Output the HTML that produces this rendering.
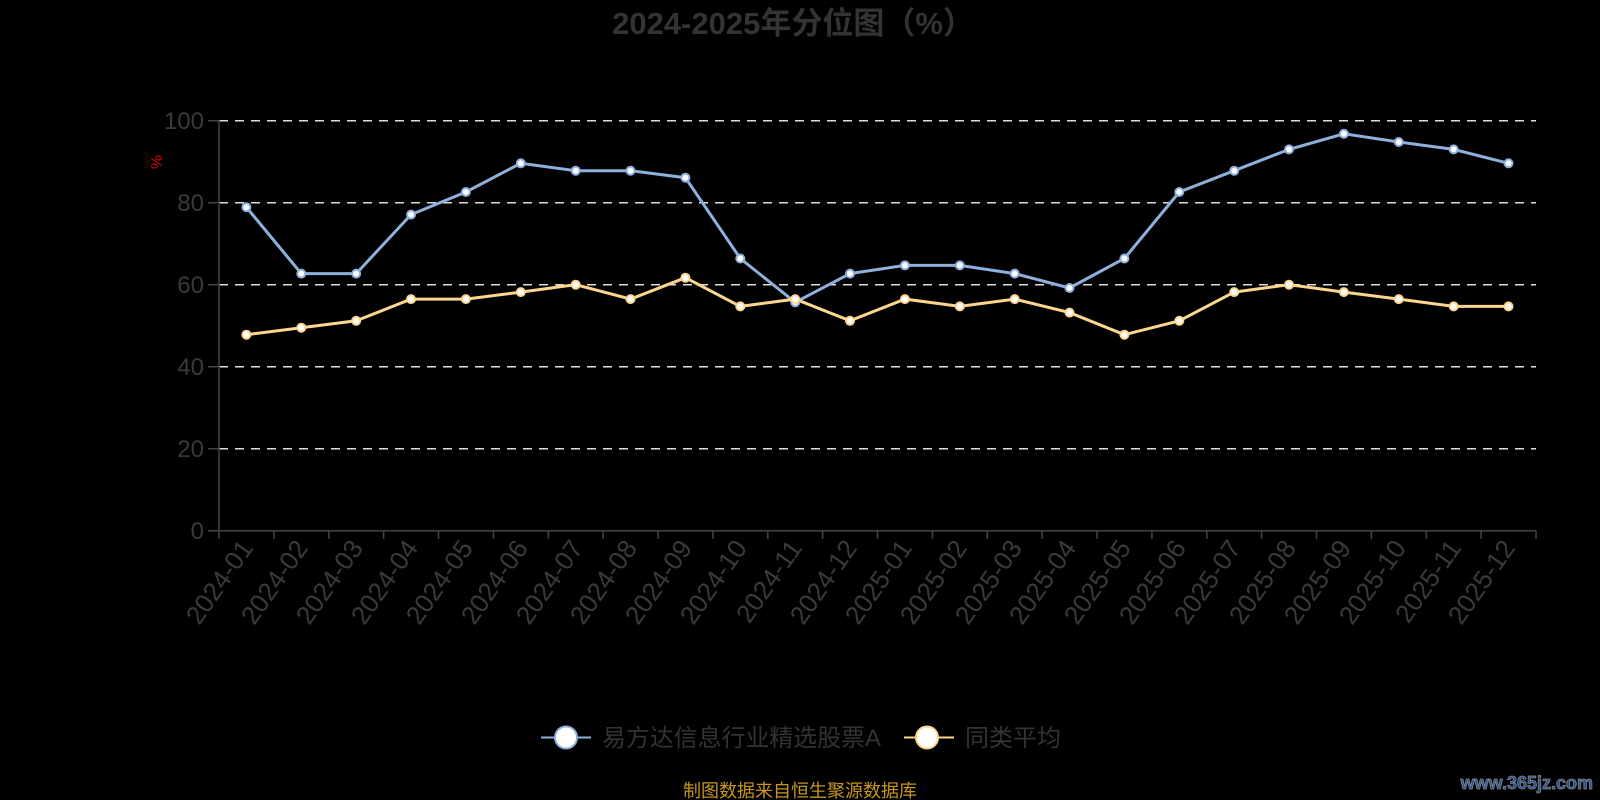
<!DOCTYPE html>
<html><head><meta charset="utf-8"><style>
html,body{margin:0;padding:0;background:#000;}
svg{display:block;}
text{font-family:"Liberation Sans","Noto Sans CJK SC",sans-serif;}
</style></head><body>
<svg width="1600" height="800" viewBox="0 0 1600 800" xmlns="http://www.w3.org/2000/svg">
<rect width="1600" height="800" fill="#000"/>
<text x="793" y="34" text-anchor="middle" font-size="31" font-weight="bold" fill="#333">2024-2025年分位图（%）</text>
<g stroke="#ddd" stroke-width="1.5" stroke-dasharray="9,7">
<line x1="219" y1="120.7" x2="1536" y2="120.7"/>
<line x1="219" y1="202.7" x2="1536" y2="202.7"/>
<line x1="219" y1="284.7" x2="1536" y2="284.7"/>
<line x1="219" y1="366.7" x2="1536" y2="366.7"/>
<line x1="219" y1="448.7" x2="1536" y2="448.7"/>
</g>
<g stroke="#444" stroke-width="1.5">
<line x1="219" y1="120" x2="219" y2="531"/>
<line x1="208" y1="530.7" x2="1536" y2="530.7"/>
<line x1="208" y1="120.7" x2="219" y2="120.7"/><line x1="208" y1="202.7" x2="219" y2="202.7"/><line x1="208" y1="284.7" x2="219" y2="284.7"/><line x1="208" y1="366.7" x2="219" y2="366.7"/><line x1="208" y1="448.7" x2="219" y2="448.7"/>
<path d="M219 531v8M273.9 531v8M328.8 531v8M383.6 531v8M438.5 531v8M493.4 531v8M548.3 531v8M603.1 531v8M658 531v8M712.9 531v8M767.8 531v8M822.6 531v8M877.5 531v8M932.4 531v8M987.3 531v8M1042.1 531v8M1097 531v8M1151.9 531v8M1206.8 531v8M1261.6 531v8M1316.5 531v8M1371.4 531v8M1426.3 531v8M1481.1 531v8M1536 531v8"/>
</g>
<g font-size="24" fill="#3a3a3a" text-anchor="end">
<text x="204" y="129">100</text><text x="204" y="211">80</text><text x="204" y="293">60</text><text x="204" y="375">40</text><text x="204" y="457">20</text><text x="204" y="539">0</text>
</g>
<text x="162" y="162" font-size="16" fill="#d00" text-anchor="middle" transform="rotate(-90 162 162)">%</text>
<g font-size="26" fill="#3a3a3a" text-anchor="end">
<text transform="translate(254,548) rotate(-55)">2024-01</text>
<text transform="translate(309,548) rotate(-55)">2024-02</text>
<text transform="translate(364,548) rotate(-55)">2024-03</text>
<text transform="translate(419,548) rotate(-55)">2024-04</text>
<text transform="translate(474,548) rotate(-55)">2024-05</text>
<text transform="translate(529,548) rotate(-55)">2024-06</text>
<text transform="translate(584,548) rotate(-55)">2024-07</text>
<text transform="translate(638,548) rotate(-55)">2024-08</text>
<text transform="translate(693,548) rotate(-55)">2024-09</text>
<text transform="translate(748,548) rotate(-55)">2024-10</text>
<text transform="translate(803,548) rotate(-55)">2024-11</text>
<text transform="translate(858,548) rotate(-55)">2024-12</text>
<text transform="translate(913,548) rotate(-55)">2025-01</text>
<text transform="translate(968,548) rotate(-55)">2025-02</text>
<text transform="translate(1023,548) rotate(-55)">2025-03</text>
<text transform="translate(1077,548) rotate(-55)">2025-04</text>
<text transform="translate(1132,548) rotate(-55)">2025-05</text>
<text transform="translate(1187,548) rotate(-55)">2025-06</text>
<text transform="translate(1242,548) rotate(-55)">2025-07</text>
<text transform="translate(1297,548) rotate(-55)">2025-08</text>
<text transform="translate(1352,548) rotate(-55)">2025-09</text>
<text transform="translate(1407,548) rotate(-55)">2025-10</text>
<text transform="translate(1462,548) rotate(-55)">2025-11</text>
<text transform="translate(1516,548) rotate(-55)">2025-12</text>
</g>
<polyline fill="none" stroke="#8eb0dc" stroke-width="3" points="246.4,207.2 301.3,273.6 356.2,273.6 411,214.6 465.9,192 520.8,163.3 575.7,170.7 630.5,170.7 685.4,177.7 740.3,258.5 795.2,302.3 850,273.6 904.9,265.4 959.8,265.4 1014.7,273.6 1069.5,288 1124.4,258.5 1179.3,192 1234.2,170.7 1289,149.4 1343.9,133.8 1398.8,142 1453.7,149.4 1508.5,163.3"/>
<polyline fill="none" stroke="#fcd68f" stroke-width="3" points="246.4,334.7 301.3,327.7 356.2,320.8 411,299.1 465.9,299.1 520.8,292.1 575.7,284.7 630.5,299.1 685.4,277.7 740.3,306.4 795.2,299.1 850,320.8 904.9,299.1 959.8,306.4 1014.7,299.1 1069.5,312.6 1124.4,334.7 1179.3,320.8 1234.2,292.1 1289,284.7 1343.9,292.1 1398.8,299.1 1453.7,306.4 1508.5,306.4"/>
<g fill="#fff" stroke="#8eb0dc" stroke-width="2">
<circle cx="246.4" cy="207.2" r="4"/><circle cx="301.3" cy="273.6" r="4"/><circle cx="356.2" cy="273.6" r="4"/><circle cx="411" cy="214.6" r="4"/><circle cx="465.9" cy="192" r="4"/><circle cx="520.8" cy="163.3" r="4"/><circle cx="575.7" cy="170.7" r="4"/><circle cx="630.5" cy="170.7" r="4"/><circle cx="685.4" cy="177.7" r="4"/><circle cx="740.3" cy="258.5" r="4"/><circle cx="795.2" cy="302.3" r="4"/><circle cx="850" cy="273.6" r="4"/><circle cx="904.9" cy="265.4" r="4"/><circle cx="959.8" cy="265.4" r="4"/><circle cx="1014.7" cy="273.6" r="4"/><circle cx="1069.5" cy="288" r="4"/><circle cx="1124.4" cy="258.5" r="4"/><circle cx="1179.3" cy="192" r="4"/><circle cx="1234.2" cy="170.7" r="4"/><circle cx="1289" cy="149.4" r="4"/><circle cx="1343.9" cy="133.8" r="4"/><circle cx="1398.8" cy="142" r="4"/><circle cx="1453.7" cy="149.4" r="4"/><circle cx="1508.5" cy="163.3" r="4"/>
</g>
<g fill="#fff" stroke="#fcd68f" stroke-width="2">
<circle cx="246.4" cy="334.7" r="4"/><circle cx="301.3" cy="327.7" r="4"/><circle cx="356.2" cy="320.8" r="4"/><circle cx="411" cy="299.1" r="4"/><circle cx="465.9" cy="299.1" r="4"/><circle cx="520.8" cy="292.1" r="4"/><circle cx="575.7" cy="284.7" r="4"/><circle cx="630.5" cy="299.1" r="4"/><circle cx="685.4" cy="277.7" r="4"/><circle cx="740.3" cy="306.4" r="4"/><circle cx="795.2" cy="299.1" r="4"/><circle cx="850" cy="320.8" r="4"/><circle cx="904.9" cy="299.1" r="4"/><circle cx="959.8" cy="306.4" r="4"/><circle cx="1014.7" cy="299.1" r="4"/><circle cx="1069.5" cy="312.6" r="4"/><circle cx="1124.4" cy="334.7" r="4"/><circle cx="1179.3" cy="320.8" r="4"/><circle cx="1234.2" cy="292.1" r="4"/><circle cx="1289" cy="284.7" r="4"/><circle cx="1343.9" cy="292.1" r="4"/><circle cx="1398.8" cy="299.1" r="4"/><circle cx="1453.7" cy="306.4" r="4"/><circle cx="1508.5" cy="306.4" r="4"/>
</g>
<line x1="541" y1="737.5" x2="591" y2="737.5" stroke="#8eb0dc" stroke-width="2"/>
<circle cx="566" cy="737.5" r="11" fill="#fff" stroke="#8eb0dc" stroke-width="2"/>
<text x="602" y="746" font-size="24" fill="#333" textLength="279" lengthAdjust="spacingAndGlyphs">易方达信息行业精选股票A</text>
<line x1="904" y1="737.5" x2="954" y2="737.5" stroke="#fcd68f" stroke-width="2"/>
<circle cx="927" cy="737.5" r="11" fill="#fff" stroke="#fcd68f" stroke-width="2"/>
<text x="965" y="746" font-size="24" fill="#333">同类平均</text>
<text x="800" y="797" text-anchor="middle" font-size="18" fill="#c8961e">制图数据来自恒生聚源数据库</text>
<text x="1593" y="789" text-anchor="end" font-size="18" font-weight="bold" fill="#1f4f9a" stroke="#888" stroke-width="0.8">www.365jz.com</text>
</svg>
</body></html>
